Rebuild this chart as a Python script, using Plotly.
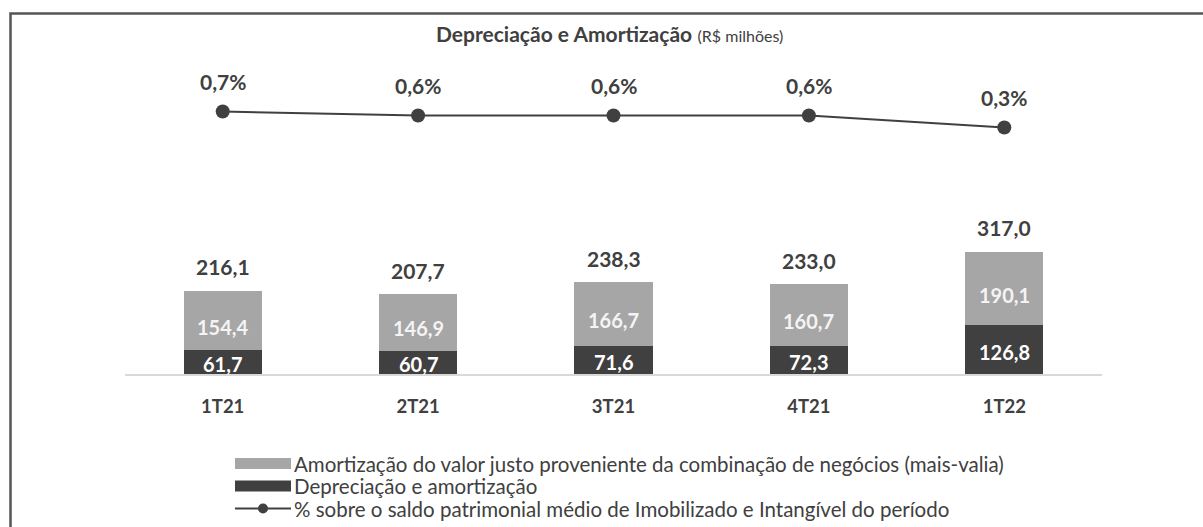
import plotly.graph_objects as go

# Quarterly depreciation & amortization (R$ millions)
quarters = ["1T21", "2T21", "3T21", "4T21", "1T22"]
depreciacao = [61.7, 60.7, 71.6, 72.3, 126.8]
mais_valia = [154.4, 146.9, 166.7, 160.7, 190.1]
totais = [216.1, 207.7, 238.3, 233.0, 317.0]
pct_saldo = [0.7, 0.6, 0.6, 0.6, 0.3]

legend_labels = [
    "Amortização do valor justo proveniente da combinação de negócios (mais-valia)",
    "Depreciação e amortização",
    "% sobre o saldo patrimonial médio de Imobilizado e Intangível do período",
]

W, H = 1203, 527
FONT = "Lato"
DARK = "#404040"
LIGHT = "#a6a6a6"


def px(x):
    return x / W


def py(y):
    return 1 - y / H


def br(v, dec=1):
    return f"{v:.{dec}f}".replace(".", ",")


fig = go.Figure()

fig.add_trace(go.Bar(x=quarters, y=depreciacao, marker_color=DARK,
                     marker_line_width=0, name=legend_labels[1]))
fig.add_trace(go.Bar(x=quarters, y=mais_valia, marker_color=LIGHT,
                     marker_line_width=0, name=legend_labels[0]))
fig.add_trace(go.Scatter(x=quarters, y=pct_saldo, yaxis="y2", mode="lines+markers",
                         line=dict(color=DARK, width=2),
                         marker=dict(color=DARK, size=14),
                         name=legend_labels[2]))

ann = []
# value labels inside the bars and totals above them
for q, d, m, t in zip(quarters, depreciacao, mais_valia, totais):
    ann.append(dict(x=q, y=d / 2, yref="y", text=f"<b>{br(d)}</b>", showarrow=False,
                    yshift=-2, font=dict(family=FONT, size=20, color="white")))
    ann.append(dict(x=q, y=d + m / 2, yref="y", text=f"<b>{br(m)}</b>", showarrow=False,
                    yshift=-6, font=dict(family=FONT, size=20, color="#f4f4f4")))
    ann.append(dict(x=q, y=t, yref="y", text=f"<b>{br(t)}</b>", showarrow=False,
                    yshift=24, font=dict(family=FONT, size=21, color=DARK)))
# percentage labels above the line markers
for q, p in zip(quarters, pct_saldo):
    ann.append(dict(x=q, y=p, yref="y2", text=f"<b>{br(p)}%</b>", showarrow=False,
                    yshift=30, font=dict(family=FONT, size=21, color=DARK)))

# title
ann.append(dict(x=px(609), y=py(33), xref="paper", yref="paper", showarrow=False,
                yanchor="middle",
                text="<b>Depreciação e Amortização</b> "
                     "<span style='font-size:16px'>(R$ milhões)</span>",
                font=dict(family=FONT, size=21, color=DARK)))

# legend text
leg_rows = [463.5, 486, 508.5]
for lbl, yy in zip(legend_labels, leg_rows):
    ann.append(dict(x=px(292), y=py(yy), xref="paper", yref="paper", xanchor="left",
                    yanchor="middle", showarrow=False, text=lbl,
                    font=dict(family=FONT, size=20.5, color=DARK)))

shapes = [
    # outer frame
    dict(type="rect", xref="paper", yref="paper", x0=px(10.5), x1=1.02,
         y0=-0.02, y1=py(13.5), line=dict(color="#555555", width=2.5)),
    # legend swatches
    dict(type="rect", xref="paper", yref="paper", x0=px(235), x1=px(291),
         y0=py(leg_rows[0] + 5.5), y1=py(leg_rows[0] - 5.5),
         fillcolor=LIGHT, line_width=0),
    dict(type="rect", xref="paper", yref="paper", x0=px(235), x1=px(291),
         y0=py(leg_rows[1] + 5.5), y1=py(leg_rows[1] - 5.5),
         fillcolor=DARK, line_width=0),
    dict(type="line", xref="paper", yref="paper", x0=px(235), x1=px(291),
         y0=py(leg_rows[2]), y1=py(leg_rows[2]), line=dict(color=DARK, width=2)),
    dict(type="circle", xref="paper", yref="paper", x0=px(258), x1=px(268),
         y0=py(leg_rows[2] + 5), y1=py(leg_rows[2] - 5),
         fillcolor=DARK, line_width=0),
]

base_y = 374          # pixel row of the category baseline
top_y = 52.7
bar_scale = 0.385     # px per R$ million
pct_scale = 40.0      # px per percentage point
dom_h = base_y - top_y
bar_max = dom_h / bar_scale
p0 = 0.7 - (base_y - 111.5) / pct_scale
p1 = p0 + dom_h / pct_scale

fig.update_layout(
    width=W, height=H,
    margin=dict(l=0, r=0, t=0, b=0),
    paper_bgcolor="white", plot_bgcolor="white",
    barmode="stack", bargap=0.6,
    showlegend=False,
    xaxis=dict(domain=[px(125), px(1102)], showline=True, linecolor="#d9d9d9",
               linewidth=2, ticks="", showgrid=False, ticklabelstandoff=15,
               tickfont=dict(family=FONT, size=18.5, color=DARK),
               tickvals=quarters, ticktext=[f"<b>{q}</b>" for q in quarters]),
    yaxis=dict(domain=[py(base_y), py(top_y)], range=[0, bar_max], visible=False,
               showgrid=False, zeroline=False),
    yaxis2=dict(overlaying="y", range=[p0, p1], visible=False, showgrid=False,
                zeroline=False),
    annotations=ann,
    shapes=shapes,
)

fig.write_html("out.html")
